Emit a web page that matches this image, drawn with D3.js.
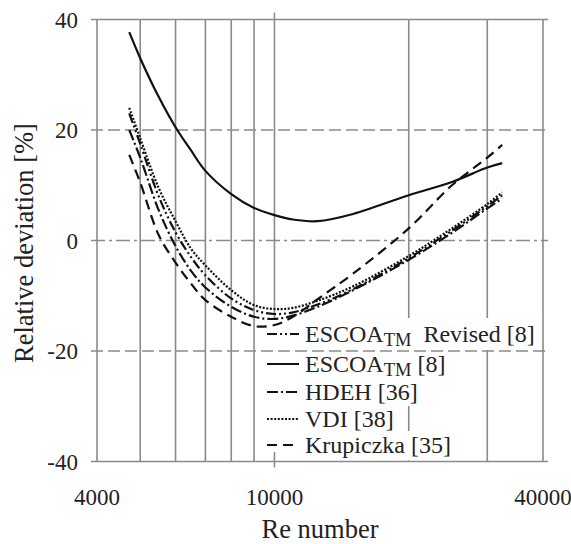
<!DOCTYPE html>
<html lang="en">
<head>
    <meta charset="UTF-8">
    <title>Relative deviation vs Re</title>
    <script src="https://cdnjs.cloudflare.com/ajax/libs/d3/7.8.5/d3.min.js"></script>
    <style>
        body {
            margin: 0;
            background-color: white;
        }
    </style>
</head>
<body>
    <svg id="chart" width="571" height="544"></svg>

    <script>
        const reValues = [4725, 5000, 5500, 6000, 6500, 7000, 8000, 9000, 10000, 11000, 12500, 15000, 20000, 25000, 30000, 32400];

        // relative deviation [%] for each correlation
        const escoaRevised = [23, 17.5, 8, 1.5, -3, -6.3, -10.5, -12.6, -13.3, -13, -11.6, -8.8, -3.2, 1.8, 6.2, 8.2];
        const escoa = [37.7, 33, 26, 20.5, 16.3, 12.6, 8.4, 5.9, 4.6, 3.8, 3.5, 4.8, 8.2, 10.6, 13.2, 14.0];
        const hdeh = [20, 15, 5.5, -1, -5.5, -8.5, -12, -13.8, -14.2, -13.6, -12, -9, -3.5, 1.4, 5.8, 7.6];
        const vdi = [24, 18.5, 9.5, 3.5, -1.5, -4.5, -9, -11.7, -12.4, -12.2, -10.9, -8.3, -2.8, 2.2, 6.6, 8.7];
        const krupiczka = [15.5, 10.5, 1, -4, -7.8, -10.8, -13.8, -15.5, -15.3, -13.8, -10.6, -6, 2.2, 10, 15, 17.3];

        const xTicks = [4000, 10000, 40000];
        const xGrid = [5000, 6000, 7000, 8000, 9000, 10000, 20000, 30000, 40000];
        const yTicks = [40, 20, 0, -20, -40];

        const series = [
            { name: "ESCOA", sub: "TM", rest: "  Revised [8]", values: escoaRevised, dash: "10,3,2,3,2,3" },
            { name: "ESCOA", sub: "TM", rest: " [8]", values: escoa, dash: null },
            { name: "HDEH [36]", sub: null, rest: "", values: hdeh, dash: "11,3,2,3" },
            { name: "VDI [38]", sub: null, rest: "", values: vdi, dash: "2,1.6" },
            { name: "Krupiczka [35]", sub: null, rest: "", values: krupiczka, dash: "10,6" }
        ];

        const serif = "'Liberation Serif', 'Times New Roman', Times, 'DejaVu Serif', serif";
        const svg = d3.select("#chart")
            .attr("font-family", serif);
        const gridColor = "#8a8a8a";

        const x = d3.scaleLog().domain([4000, 40000]).range([97, 543]);
        const y = d3.scaleLinear().domain([-40, 40]).range([461.5, 19.5]);

        // vertical grid lines
        svg.append("g").selectAll("line")
            .data(xGrid)
            .join("line")
            .attr("x1", d => x(d)).attr("x2", d => x(d))
            .attr("y1", d => d === 10000 ? y(40) - 7 : y(40))
            .attr("y2", d => d === 10000 ? y(-40) + 6 : y(-40))
            .attr("stroke", gridColor)
            .attr("stroke-width", 1.6);

        // left axis line
        svg.append("line")
            .attr("x1", x(4000)).attr("x2", x(4000))
            .attr("y1", y(40)).attr("y2", y(-40))
            .attr("stroke", gridColor)
            .attr("stroke-width", 1.6);

        // legend: white boxes go under the entries, then horizontal lines, then texts
        const rowBase = [342, 372, 400, 427, 453];
        const legendBoxes = svg.append("g");
        const legendHLines = svg.append("g");
        const legendItems = svg.append("g");

        const rows = legendItems.selectAll("g")
            .data(series)
            .join("g")
            .attr("transform", (d, i) => `translate(0, ${rowBase[i]})`);

        const labels = rows.append("text")
            .attr("x", 305)
            .attr("y", 0)
            .attr("font-family", serif)
            .attr("fill", "#222")
            .style("font-size", "24px")
            .style("white-space", "pre");
        labels.append("tspan").text(d => d.name);
        labels.filter(d => d.sub).append("tspan")
            .attr("dy", 4)
            .style("font-size", "18.5px")
            .text(d => d.sub);
        labels.filter(d => d.sub).append("tspan")
            .attr("dy", -4)
            .text(d => d.rest);

        const textEnds = labels.nodes().map(n => 305 + n.getComputedTextLength());

        legendBoxes.selectAll("rect.row")
            .data(series)
            .join("rect")
            .attr("class", "row")
            .attr("x", 265)
            .attr("y", (d, i) => rowBase[i] + (i === 0 ? -24 : -22))
            .attr("width", (d, i) => textEnds[i] - 265 + 3)
            .attr("height", (d, i) => i === 4 ? 21 : (i === 0 ? 32 : 28))
            .attr("fill", "white");

        // the last entry's text box reaches down to the axis
        legendBoxes.append("rect")
            .attr("x", 303)
            .attr("y", rowBase[4] - 22)
            .attr("width", textEnds[4] - 303 + 3)
            .attr("height", y(-40) - 1 - (rowBase[4] - 22))
            .attr("fill", "white");

        rows.append("line")
            .attr("x1", 267).attr("x2", 299)
            .attr("y1", -8).attr("y2", -8)
            .attr("stroke", "#111")
            .attr("stroke-width", 2)
            .attr("stroke-dasharray", d => d.dash);

        // horizontal lines
        const hStyle = v => (v === 40 || v === -40) ? null : (v === 0 ? "14,4,3,4" : "12,5");
        legendHLines.selectAll("line")
            .data(yTicks)
            .join("line")
            .attr("x1", 91).attr("x2", 548)
            .attr("y1", d => y(d)).attr("y2", d => y(d))
            .attr("stroke", gridColor)
            .attr("stroke-width", 1.6)
            .attr("stroke-dasharray", d => hStyle(d));

        // curves
        const line = d3.line()
            .x(d => x(d[0]))
            .y(d => y(d[1]))
            .curve(d3.curveCatmullRom.alpha(0.5));

        svg.append("g").selectAll("path")
            .data(series)
            .join("path")
            .attr("d", d => line(reValues.map((r, i) => [r, d.values[i]])))
            .attr("fill", "none")
            .attr("stroke", "#111")
            .attr("stroke-width", 2.2)
            .attr("stroke-dasharray", d => d.dash);

        // tick labels
        svg.append("g").selectAll("text")
            .data(yTicks)
            .join("text")
            .attr("x", 78)
            .attr("y", d => y(d))
            .attr("dy", "0.35em")
            .attr("text-anchor", "end")
            .attr("font-family", serif)
            .attr("fill", "#222")
            .style("font-size", "23px")
            .text(d => d);

        svg.append("g").selectAll("text")
            .data(xTicks)
            .join("text")
            .attr("x", d => x(d))
            .attr("y", 505)
            .attr("text-anchor", "middle")
            .attr("font-family", serif)
            .attr("fill", "#222")
            .style("font-size", "23px")
            .text(d => d);

        // axis titles
        svg.append("text")
            .attr("x", 320)
            .attr("y", 538)
            .attr("text-anchor", "middle")
            .attr("font-family", serif)
            .attr("fill", "#222")
            .style("font-size", "26.5px")
            .text("Re number");

        svg.append("text")
            .attr("transform", "translate(33, 243) rotate(-90)")
            .attr("text-anchor", "middle")
            .attr("font-family", serif)
            .attr("fill", "#222")
            .style("font-size", "26.5px")
            .text("Relative deviation [%]");
    </script>
</body>
</html>
